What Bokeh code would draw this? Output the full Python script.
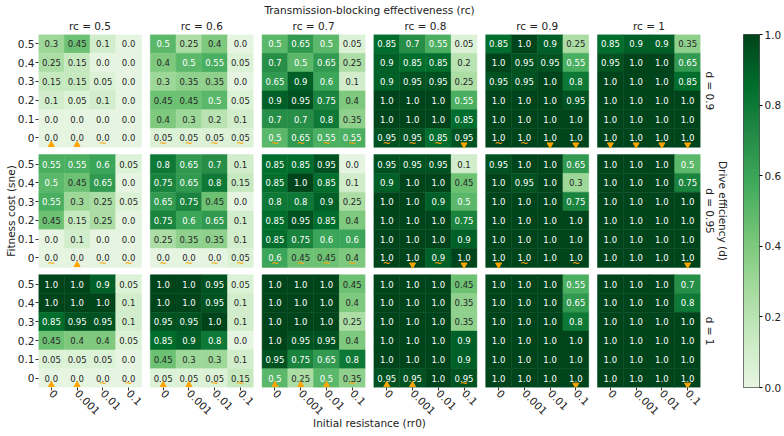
import math
import numpy as np
from bokeh.plotting import figure
from bokeh.models import (Range1d, FixedTicker, LinearAxis, LinearColorMapper,
                          ColumnDataSource, PrintfTickFormatter)
from bokeh.transform import transform
from bokeh.layouts import row
from bokeh.embed import file_html
from bokeh.resources import INLINE
from bokeh.core.properties import value

# ---------------- data ----------------
rc_levels = ["0.5", "0.6", "0.7", "0.8", "0.9", "1"]
d_levels = ["0.9", "0.95", "1"]
rr0_labels = ["0", "0.001", "0.01", "0.1"]
sne_labels = ["0.5", "0.4", "0.3", "0.2", "0.1", "0"]  # top -> bottom

# each: 6 panels (rc), each 6 rows (sne 0.5 -> 0) x 4 cols (rr0)
vals_d090 = [
    [[0.3, 0.45, 0.1, 0.0], [0.25, 0.15, 0.0, 0.0], [0.15, 0.15, 0.05, 0.0], [0.1, 0.05, 0.1, 0.0], [0.0, 0.0, 0.0, 0.0], [0.0, 0.0, 0.0, 0.0]],
    [[0.5, 0.25, 0.4, 0.0], [0.4, 0.5, 0.55, 0.05], [0.3, 0.35, 0.35, 0.0], [0.45, 0.45, 0.5, 0.05], [0.4, 0.3, 0.2, 0.1], [0.05, 0.05, 0.05, 0.05]],
    [[0.5, 0.65, 0.5, 0.05], [0.7, 0.5, 0.65, 0.25], [0.65, 0.9, 0.6, 0.1], [0.9, 0.95, 0.75, 0.4], [0.7, 0.7, 0.8, 0.35], [0.5, 0.65, 0.55, 0.55]],
    [[0.85, 0.7, 0.55, 0.05], [0.9, 0.85, 0.85, 0.2], [0.9, 0.95, 0.95, 0.25], [1.0, 1.0, 1.0, 0.55], [1.0, 1.0, 1.0, 0.85], [0.95, 0.95, 0.85, 0.95]],
    [[0.85, 1.0, 0.9, 0.25], [1.0, 0.95, 0.95, 0.55], [0.95, 0.95, 1.0, 0.8], [1.0, 1.0, 1.0, 0.95], [1.0, 1.0, 1.0, 1.0], [1.0, 1.0, 1.0, 1.0]],
    [[0.85, 0.9, 0.9, 0.35], [0.95, 1.0, 1.0, 0.65], [1.0, 1.0, 1.0, 0.85], [1.0, 1.0, 1.0, 1.0], [1.0, 1.0, 1.0, 1.0], [1.0, 1.0, 1.0, 1.0]],
]
vals_d095 = [
    [[0.55, 0.55, 0.6, 0.05], [0.5, 0.45, 0.65, 0.0], [0.55, 0.3, 0.25, 0.05], [0.45, 0.15, 0.25, 0.0], [0.0, 0.1, 0.0, 0.0], [0.0, 0.0, 0.0, 0.0]],
    [[0.8, 0.65, 0.7, 0.1], [0.75, 0.65, 0.8, 0.15], [0.65, 0.75, 0.45, 0.0], [0.75, 0.6, 0.65, 0.1], [0.25, 0.35, 0.35, 0.1], [0.0, 0.0, 0.0, 0.05]],
    [[0.85, 0.85, 0.95, 0.0], [0.85, 1.0, 0.85, 0.1], [0.8, 0.8, 0.9, 0.25], [0.85, 0.95, 0.85, 0.4], [0.85, 0.75, 0.6, 0.6], [0.6, 0.45, 0.45, 0.4]],
    [[0.95, 0.95, 0.95, 0.1], [0.9, 1.0, 1.0, 0.45], [1.0, 1.0, 0.9, 0.5], [1.0, 1.0, 1.0, 0.75], [1.0, 1.0, 1.0, 0.9], [1.0, 1.0, 0.9, 1.0]],
    [[0.95, 1.0, 1.0, 0.65], [1.0, 0.95, 1.0, 0.3], [1.0, 1.0, 1.0, 0.75], [1.0, 1.0, 1.0, 1.0], [1.0, 1.0, 1.0, 1.0], [1.0, 1.0, 1.0, 1.0]],
    [[1.0, 1.0, 1.0, 0.5], [1.0, 1.0, 1.0, 0.75], [1.0, 1.0, 1.0, 1.0], [1.0, 1.0, 1.0, 1.0], [1.0, 1.0, 1.0, 1.0], [1.0, 1.0, 1.0, 1.0]],
]
vals_d100 = [
    [[1.0, 1.0, 0.9, 0.05], [1.0, 1.0, 1.0, 0.1], [0.85, 0.95, 0.95, 0.1], [0.45, 0.4, 0.4, 0.05], [0.05, 0.05, 0.05, 0.0], [0.0, 0.0, 0.0, 0.0]],
    [[1.0, 1.0, 0.95, 0.05], [1.0, 1.0, 0.95, 0.1], [0.95, 0.95, 1.0, 0.1], [0.85, 0.9, 0.8, 0.0], [0.45, 0.3, 0.3, 0.1], [0.05, 0.05, 0.05, 0.15]],
    [[1.0, 1.0, 1.0, 0.45], [1.0, 1.0, 1.0, 0.4], [1.0, 1.0, 1.0, 0.25], [1.0, 0.95, 0.95, 0.4], [0.95, 0.75, 0.65, 0.8], [0.5, 0.25, 0.5, 0.35]],
    [[1.0, 1.0, 1.0, 0.45], [1.0, 1.0, 1.0, 0.35], [1.0, 1.0, 1.0, 0.35], [1.0, 1.0, 1.0, 0.9], [1.0, 1.0, 1.0, 0.9], [0.95, 0.95, 1.0, 0.95]],
    [[1.0, 1.0, 1.0, 0.55], [1.0, 1.0, 1.0, 0.65], [1.0, 1.0, 1.0, 0.8], [1.0, 1.0, 1.0, 1.0], [1.0, 1.0, 1.0, 1.0], [1.0, 1.0, 1.0, 1.0]],
    [[1.0, 1.0, 1.0, 0.7], [1.0, 1.0, 1.0, 0.8], [1.0, 1.0, 1.0, 1.0], [1.0, 1.0, 1.0, 1.0], [1.0, 1.0, 1.0, 1.0], [1.0, 1.0, 1.0, 1.0]],
]
# markers on the sne = 0 row: u = up triangle, d = down triangle, t = tilde, "" = none
marks_d090 = [["u", "u", "t", ""], ["t", "t", "t", "t"], ["t", "t", "t", "t"], ["t", "t", "t", "d"], ["t", "t", "d", "d"], ["d", "d", "d", "d"]]
marks_d095 = [["t", "u", "t", "t"], ["t", "t", "t", "t"], ["t", "t", "t", "t"], ["t", "d", "t", "d"], ["d", "t", "", "t"], ["", "", "", "d"]]
marks_d100 = [["u", "u", "t", "t"], ["u", "u", "t", "t"], ["u", "u", "u", "t"], ["u", "u", "", "t"], ["", "", "", "d"], ["", "", "", "d"]]

all_vals = [vals_d090, vals_d095, vals_d100]
all_marks = [marks_d090, marks_d095, marks_d100]

# ---------------- palette (Greens) ----------------
anchors = ['#f7fcf5', '#e5f5e0', '#c7e9c0', '#a1d99b', '#74c476', '#41ab5d', '#238b45', '#006d2c', '#00441b']
def hx(c):
    return tuple(int(c[i:i + 2], 16) for i in (1, 3, 5))
anc = [hx(c) for c in anchors]
palette = []
for i in range(256):
    t = 0.12 + 0.88 * i / 255
    s = t * 8
    k = min(int(s), 7)
    f = s - k
    r, g, b = [round(anc[k][m] + (anc[k + 1][m] - anc[k][m]) * f) for m in range(3)]
    palette.append('#%02x%02x%02x' % (r, g, b))
mapper = LinearColorMapper(palette=palette, low=0, high=1)

# ---------------- geometry ----------------
GX, GY = 0.342, 0.39
X1 = 24 + 5 * GX
Y1 = 18 + 2 * GY
PW, PH = 743, 436
FONT = "DejaVu Sans"
TXT = "#222222"

def fmt(v):
    if abs(v * 10 - round(v * 10)) < 1e-9:
        return "%.1f" % v
    return "%.2f" % v

xs, ys, vs, txt, tcol = [], [], [], [], []
mx, my, mk = [], [], []
tx, ty = [], []
for i in range(3):
    for j in range(6):
        panel = all_vals[i][j]
        for r in range(6):
            for c in range(4):
                v = panel[r][c]
                x = j * (4 + GX) + c + 0.5
                y = (2 - i) * (6 + GY) + (5 - r) + 0.5
                xs.append(x); ys.append(y); vs.append(v)
                txt.append(fmt(v))
                tcol.append("white" if v >= 0.5 else "#262626")
        for c in range(4):
            m = all_marks[i][j][c]
            x = j * (4 + GX) + c + 0.5
            y = (2 - i) * (6 + GY) + 0.5
            if m == "u":
                mx.append(x); my.append(y - 0.36); mk.append("triangle")
            elif m == "d":
                mx.append(x); my.append(y - 0.36); mk.append("inverted_triangle")
            elif m == "t":
                tx.append(x); ty.append(y - 0.3)

src = ColumnDataSource(dict(x=xs, y=ys, v=vs, txt=txt, tc=tcol))

p = figure(width=PW, height=PH, x_range=Range1d(0, X1), y_range=Range1d(0, Y1),
           output_backend="svg", toolbar_location=None, title=None,
           min_border_left=38, min_border_right=43, min_border_top=29, min_border_bottom=49)
bottom_axis = p.xaxis[0]
left_axis = p.yaxis[0]
p.rect(x="x", y="y", width=1, height=1, source=src,
       fill_color=transform("v", mapper), line_color=transform("v", mapper), line_width=0.5)
p.text(x="x", y="y", text="txt", source=src, text_color="tc",
       text_font=value(FONT), text_font_size="8.5px",
       text_align="center", text_baseline="middle")
p.scatter(x=mx, y=my, marker=mk, size=6, fill_color="#ffa500", line_color="#ffa500")
p.text(x=tx, y=ty, text=["~"] * len(tx), text_color="#ffa500",
       text_font=value(FONT), text_font_size="10px",
       text_align="center", text_baseline="middle")

p.grid.visible = False
p.outline_line_color = None
p.background_fill_color = "white"

# tick positions
yt, ylab = [], {}
for i in range(3):
    for r in range(6):
        y = (2 - i) * (6 + GY) + (5 - r) + 0.5
        yt.append(y); ylab[y] = sne_labels[r]
xt, xlab = [], {}
for j in range(6):
    for c in range(4):
        x = j * (4 + GX) + c + 0.5
        xt.append(x); xlab[x] = rr0_labels[c]
rct, rclab = [], {}
for j, rc in enumerate(rc_levels):
    x = j * (4 + GX) + 2
    rct.append(x); rclab[x] = "rc = " + rc
dt, dlab = [], {}
for i, d in enumerate(d_levels):
    y = (2 - i) * (6 + GY) + 3
    dt.append(y); dlab[y] = "d = " + d

top_axis = LinearAxis()
right_axis = LinearAxis()
p.add_layout(top_axis, "above")
p.add_layout(right_axis, "right")

def style(ax, ticks, labs, tick_out, standoff, label, label_standoff):
    ax.ticker = FixedTicker(ticks=ticks)
    ax.major_label_overrides = labs
    ax.axis_line_color = None
    ax.minor_tick_line_color = None
    ax.major_tick_in = 0
    ax.major_tick_out = tick_out
    ax.major_tick_line_color = "#333333" if tick_out else None
    ax.major_label_text_font = FONT
    ax.major_label_text_font_size = "10.5px"
    ax.major_label_text_color = TXT
    ax.major_label_standoff = standoff
    ax.axis_label = label
    ax.axis_label_text_font = FONT
    ax.axis_label_text_font_size = "10.5px"
    ax.axis_label_text_font_style = "normal"
    ax.axis_label_text_color = TXT
    ax.axis_label_standoff = label_standoff

style(left_axis, yt, ylab, 3, 1, "Fitness cost (sne)", -2)
style(bottom_axis, xt, xlab, 3, 1, "Initial resistance (rr0)", -4)
style(top_axis, rct, rclab, 0, 3, "Transmission-blocking effectiveness (rc)", 1)
style(right_axis, dt, dlab, 0, 3, "Drive efficiency (d)", -2)
bottom_axis.major_label_orientation = -math.pi / 4
right_axis.major_label_orientation = "parallel"

# ---------------- colorbar ----------------
cbar_levels = np.linspace(0, 1, 256).reshape(256, 1)
cb = figure(width=41, height=PH, x_range=Range1d(0, 1), y_range=Range1d(0, 1),
            output_backend="svg", toolbar_location=None, title=None,
            x_axis_location=None, y_axis_location="right",
            min_border_left=0, min_border_right=24, min_border_top=21, min_border_bottom=45)
cb.image(image=[cbar_levels], x=0, y=0, dw=1, dh=1, color_mapper=mapper)
cb.grid.visible = False
cb.outline_line_color = "#222222"
cb.outline_line_width = 0.8
cb.yaxis.ticker = FixedTicker(ticks=[0, 0.2, 0.4, 0.6, 0.8, 1.0])
cb.yaxis.formatter = PrintfTickFormatter(format="%.1f")
cb.yaxis.axis_line_color = None
cb.yaxis.minor_tick_line_color = None
cb.yaxis.major_tick_in = 0
cb.yaxis.major_tick_out = 3
cb.yaxis.major_label_text_font = FONT
cb.yaxis.major_label_text_font_size = "10.5px"
cb.yaxis.major_label_text_color = TXT
cb.yaxis.major_label_standoff = 2

layout = row(p, cb)
open("out.html", "w").write(file_html(layout, INLINE))
